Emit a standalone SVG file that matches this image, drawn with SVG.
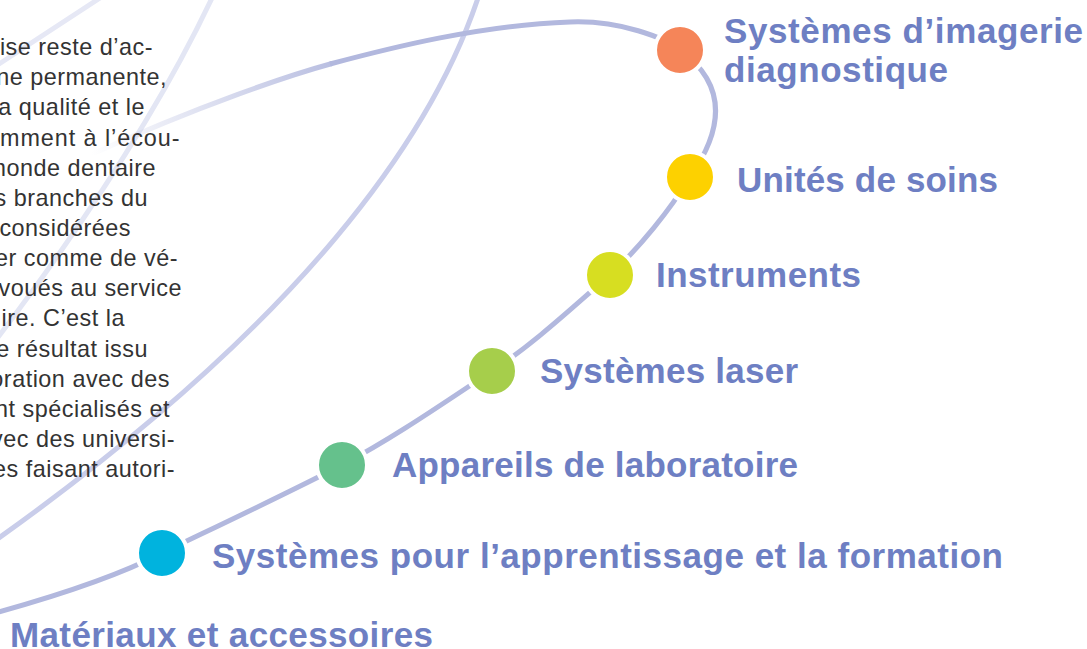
<svg xmlns="http://www.w3.org/2000/svg" width="1087" height="649" viewBox="0 0 1087 649">
<defs>
<style>
.body{font-family:"Liberation Sans",Arial,sans-serif;font-size:23.4px;fill:#333333;letter-spacing:0.5px}
.lbl{font-family:"Liberation Sans",Arial,sans-serif;font-weight:bold;font-size:35px;fill:#6E7FC3}
.main{fill:none;stroke:#B2B8DE;stroke-width:5;stroke-linecap:butt}
.faint{fill:none;stroke-width:5}
.dot{stroke:#ffffff;stroke-width:4}
</style>
<linearGradient id="tail" gradientUnits="userSpaceOnUse" x1="90" y1="150" x2="360" y2="60">
<stop offset="0" stop-color="#B2B8DE" stop-opacity="0"/>
<stop offset="0.35" stop-color="#B2B8DE" stop-opacity="0.35"/>
<stop offset="1" stop-color="#B2B8DE" stop-opacity="1"/>
</linearGradient>
</defs>
<rect width="1087" height="649" fill="#ffffff"/>
<g id="connectors">
<path class="faint" stroke="#E6E8F5" d="M 100,-2 L -4,66"/>
<path class="faint" stroke="#E3E6F4" d="M 212,-2 Q 140,150 -4,340"/>
<path class="faint" stroke="#C9CDEA" d="M 478,-2 C 432,135 305,320 -4,540"/>
<path class="main" d="M -5,613 C 60,595 120,575 162,553 C 220,525 290,492 342,465 C 395,437 445,402 492,371 C 535,343 575,305 610,275 C 640,247 670,210 690,177 C 716,140 735,90 680,50 C 665,38 620,20 570,22 C 480,25 390,48 330,64"/>
<path class="faint" stroke="url(#tail)" d="M 332,63.5 C 290,75 200,105 90,155"/>
</g>
<g id="text-block">
<text class="body" x="153" y="55" text-anchor="end">ise reste d’ac-</text>
<text class="body" x="167" y="85" text-anchor="end">ne permanente,</text>
<text class="body" x="145" y="115" text-anchor="end">a qualité et le</text>
<text class="body" x="0" y="146" textLength="180">mment à l’écou-</text>
<text class="body" x="156" y="176" text-anchor="end">monde dentaire</text>
<text class="body" x="148" y="206" text-anchor="end">s branches du</text>
<text class="body" x="131" y="236" text-anchor="end">considérées</text>
<text class="body" x="178" y="266" text-anchor="end">er comme de vé-</text>
<text class="body" x="182" y="296" text-anchor="end">voués au service</text>
<text class="body" x="125" y="326" text-anchor="end">ire. C’est la</text>
<text class="body" x="148" y="357" text-anchor="end">e résultat issu</text>
<text class="body" x="170" y="387" text-anchor="end">oration avec des</text>
<text class="body" x="170" y="417" text-anchor="end">nt spécialisés et</text>
<text class="body" x="175" y="447" text-anchor="end">vec des universi-</text>
<text class="body" x="175" y="477" text-anchor="end">es faisant autori-</text>
</g>
<g id="node-imagerie">
<circle class="dot" cx="680" cy="50" r="25" fill="#F58559"/>
<text class="lbl" x="724" y="43" textLength="359">Systèmes d’imagerie</text>
<text class="lbl" x="724" y="82" textLength="224">diagnostique</text>
</g>
<g id="node-unites">
<circle class="dot" cx="690" cy="177" r="25" fill="#FDD100"/>
<text class="lbl" x="737" y="192" textLength="261">Unités de soins</text>
</g>
<g id="node-instruments">
<circle class="dot" cx="610" cy="275" r="25" fill="#D7DE21"/>
<text class="lbl" x="656" y="287" textLength="205">Instruments</text>
</g>
<g id="node-laser">
<circle class="dot" cx="492" cy="371" r="25" fill="#A6CE4B"/>
<text class="lbl" x="540" y="383" textLength="258">Systèmes laser</text>
</g>
<g id="node-laboratoire">
<circle class="dot" cx="342" cy="465" r="25" fill="#65C18C"/>
<text class="lbl" x="392" y="477" textLength="406">Appareils de laboratoire</text>
</g>
<g id="node-formation">
<circle class="dot" cx="162" cy="553" r="25" fill="#00B3DE"/>
<text class="lbl" x="212" y="568" textLength="791">Systèmes pour l’apprentissage et la formation</text>
</g>
<g id="node-materiaux">
<text class="lbl" x="10" y="647" textLength="423">Matériaux et accessoires</text>
</g>
</svg>
